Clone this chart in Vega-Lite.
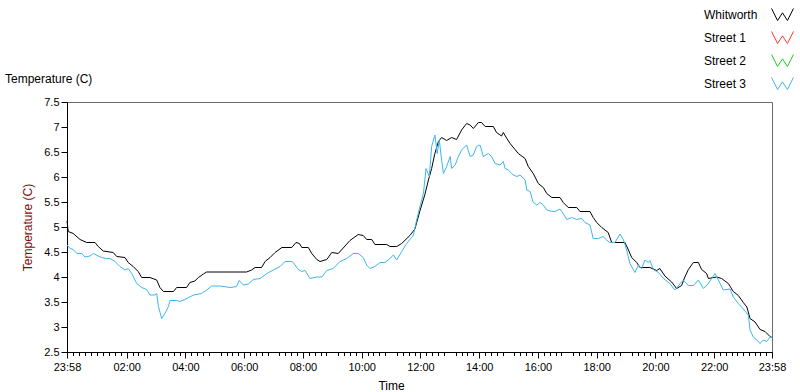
{
  "$schema": "https://vega.github.io/schema/vega-lite/v6.json",
  "width": 705,
  "height": 250,
  "autosize": "none",
  "padding": {"left": 67, "top": 102, "right": 28, "bottom": 40},
  "background": "#ffffff",
  "title": {"text": "Temperature (C)", "anchor": "start", "frame": "group", "dx": -62, "dy": 83, "offset": 0, "fontSize": 12, "fontWeight": "normal", "color": "#000000", "font": "Liberation Sans"},
  "datasets": {
    "whitworth": [
      {"t": -0.033, "v": 5.12}, {"t": 0.01, "v": 4.91}, {"t": 0.18, "v": 4.87}, {"t": 0.41, "v": 4.75}, {"t": 0.64, "v": 4.69},
      {"t": 0.92, "v": 4.69}, {"t": 1.03, "v": 4.61}, {"t": 1.2, "v": 4.52}, {"t": 1.54, "v": 4.49}, {"t": 1.66, "v": 4.41},
      {"t": 1.94, "v": 4.39}, {"t": 2.05, "v": 4.29}, {"t": 2.22, "v": 4.21}, {"t": 2.39, "v": 4.11}, {"t": 2.51, "v": 3.99},
      {"t": 2.79, "v": 3.99}, {"t": 3.02, "v": 3.94}, {"t": 3.13, "v": 3.79}, {"t": 3.25, "v": 3.71}, {"t": 3.59, "v": 3.71},
      {"t": 3.7, "v": 3.79}, {"t": 4.04, "v": 3.79}, {"t": 4.15, "v": 3.89}, {"t": 4.32, "v": 3.92}, {"t": 4.44, "v": 3.99},
      {"t": 4.61, "v": 4.06}, {"t": 4.72, "v": 4.1}, {"t": 6.08, "v": 4.1}, {"t": 6.25, "v": 4.14}, {"t": 6.37, "v": 4.19},
      {"t": 6.59, "v": 4.19}, {"t": 6.71, "v": 4.31}, {"t": 6.88, "v": 4.39}, {"t": 7.05, "v": 4.49}, {"t": 7.28, "v": 4.59},
      {"t": 7.62, "v": 4.59}, {"t": 7.76, "v": 4.69}, {"t": 7.88, "v": 4.67}, {"t": 7.96, "v": 4.59}, {"t": 8.18, "v": 4.59},
      {"t": 8.3, "v": 4.47}, {"t": 8.47, "v": 4.35}, {"t": 8.58, "v": 4.31}, {"t": 8.81, "v": 4.35}, {"t": 8.98, "v": 4.49},
      {"t": 9.2, "v": 4.47}, {"t": 9.37, "v": 4.58}, {"t": 9.6, "v": 4.73}, {"t": 9.88, "v": 4.85}, {"t": 10.05, "v": 4.83},
      {"t": 10.17, "v": 4.75}, {"t": 10.34, "v": 4.75}, {"t": 10.45, "v": 4.65}, {"t": 10.85, "v": 4.65}, {"t": 10.96, "v": 4.61},
      {"t": 11.19, "v": 4.61}, {"t": 11.36, "v": 4.67}, {"t": 11.64, "v": 4.83}, {"t": 11.81, "v": 4.96}, {"t": 11.98, "v": 5.32},
      {"t": 12.15, "v": 5.65}, {"t": 12.27, "v": 5.94}, {"t": 12.38, "v": 6.17}, {"t": 12.49, "v": 6.47}, {"t": 12.61, "v": 6.71},
      {"t": 12.72, "v": 6.79}, {"t": 12.89, "v": 6.73}, {"t": 13.06, "v": 6.79}, {"t": 13.23, "v": 6.75}, {"t": 13.4, "v": 6.94},
      {"t": 13.57, "v": 7.07}, {"t": 13.69, "v": 7.04}, {"t": 13.8, "v": 6.97}, {"t": 13.97, "v": 7.09}, {"t": 14.08, "v": 7.09},
      {"t": 14.2, "v": 7.01}, {"t": 14.48, "v": 7.01}, {"t": 14.59, "v": 6.89}, {"t": 14.76, "v": 6.82}, {"t": 14.82, "v": 6.89},
      {"t": 14.94, "v": 6.77}, {"t": 15.05, "v": 6.67}, {"t": 15.22, "v": 6.55}, {"t": 15.33, "v": 6.47}, {"t": 15.56, "v": 6.37},
      {"t": 15.67, "v": 6.21}, {"t": 15.84, "v": 6.07}, {"t": 15.9, "v": 6.0}, {"t": 16.01, "v": 5.87}, {"t": 16.18, "v": 5.79},
      {"t": 16.3, "v": 5.67}, {"t": 16.47, "v": 5.59}, {"t": 16.75, "v": 5.59}, {"t": 16.86, "v": 5.49}, {"t": 17.03, "v": 5.39},
      {"t": 17.32, "v": 5.39}, {"t": 17.43, "v": 5.31}, {"t": 17.77, "v": 5.31}, {"t": 17.88, "v": 5.19}, {"t": 18.0, "v": 5.09},
      {"t": 18.17, "v": 4.99}, {"t": 18.39, "v": 4.89}, {"t": 18.51, "v": 4.69}, {"t": 18.96, "v": 4.69}, {"t": 19.08, "v": 4.54},
      {"t": 19.19, "v": 4.39}, {"t": 19.36, "v": 4.29}, {"t": 19.47, "v": 4.19}, {"t": 19.81, "v": 4.19}, {"t": 20.04, "v": 4.13},
      {"t": 20.15, "v": 4.17}, {"t": 20.32, "v": 4.02}, {"t": 20.55, "v": 3.9}, {"t": 20.72, "v": 3.77}, {"t": 20.89, "v": 3.83},
      {"t": 21.0, "v": 4.0}, {"t": 21.12, "v": 4.15}, {"t": 21.29, "v": 4.29}, {"t": 21.46, "v": 4.29}, {"t": 21.57, "v": 4.15},
      {"t": 21.74, "v": 4.07}, {"t": 21.8, "v": 3.97}, {"t": 22.08, "v": 4.0}, {"t": 22.25, "v": 3.97}, {"t": 22.48, "v": 3.87},
      {"t": 22.65, "v": 3.71}, {"t": 22.82, "v": 3.63}, {"t": 22.99, "v": 3.49}, {"t": 23.11, "v": 3.4}, {"t": 23.22, "v": 3.17},
      {"t": 23.39, "v": 3.1}, {"t": 23.56, "v": 2.95}, {"t": 23.73, "v": 2.91}, {"t": 23.9, "v": 2.81}, {"t": 23.967, "v": 2.79}
    ],
    "street3": [
      {"t": -0.033, "v": 4.64}, {"t": 0.07, "v": 4.57}, {"t": 0.18, "v": 4.55}, {"t": 0.3, "v": 4.47}, {"t": 0.47, "v": 4.47},
      {"t": 0.58, "v": 4.4}, {"t": 0.75, "v": 4.42}, {"t": 0.86, "v": 4.47}, {"t": 1.03, "v": 4.42}, {"t": 1.15, "v": 4.39},
      {"t": 1.32, "v": 4.37}, {"t": 1.43, "v": 4.37}, {"t": 1.6, "v": 4.31}, {"t": 1.77, "v": 4.21}, {"t": 1.94, "v": 4.14},
      {"t": 2.05, "v": 4.17}, {"t": 2.17, "v": 4.07}, {"t": 2.34, "v": 3.87}, {"t": 2.51, "v": 3.79}, {"t": 2.68, "v": 3.75},
      {"t": 2.79, "v": 3.64}, {"t": 2.96, "v": 3.64}, {"t": 3.02, "v": 3.67}, {"t": 3.08, "v": 3.41}, {"t": 3.19, "v": 3.17},
      {"t": 3.3, "v": 3.27}, {"t": 3.42, "v": 3.41}, {"t": 3.47, "v": 3.53}, {"t": 3.7, "v": 3.53}, {"t": 3.81, "v": 3.51},
      {"t": 3.98, "v": 3.55}, {"t": 4.27, "v": 3.64}, {"t": 4.55, "v": 3.67}, {"t": 4.72, "v": 3.74}, {"t": 4.89, "v": 3.82},
      {"t": 5.18, "v": 3.82}, {"t": 5.52, "v": 3.79}, {"t": 5.74, "v": 3.81}, {"t": 5.83, "v": 3.93}, {"t": 5.97, "v": 3.84},
      {"t": 6.14, "v": 3.86}, {"t": 6.31, "v": 3.95}, {"t": 6.54, "v": 3.97}, {"t": 6.77, "v": 4.07}, {"t": 6.99, "v": 4.14},
      {"t": 7.22, "v": 4.21}, {"t": 7.39, "v": 4.31}, {"t": 7.62, "v": 4.31}, {"t": 7.67, "v": 4.29}, {"t": 7.84, "v": 4.15},
      {"t": 7.96, "v": 4.11}, {"t": 8.07, "v": 4.13}, {"t": 8.24, "v": 3.97}, {"t": 8.47, "v": 4.0}, {"t": 8.64, "v": 4.0},
      {"t": 8.81, "v": 4.13}, {"t": 9.03, "v": 4.17}, {"t": 9.26, "v": 4.31}, {"t": 9.49, "v": 4.37}, {"t": 9.71, "v": 4.47},
      {"t": 9.88, "v": 4.47}, {"t": 10.05, "v": 4.39}, {"t": 10.17, "v": 4.24}, {"t": 10.28, "v": 4.17}, {"t": 10.45, "v": 4.21},
      {"t": 10.62, "v": 4.29}, {"t": 10.79, "v": 4.29}, {"t": 10.9, "v": 4.34}, {"t": 11.08, "v": 4.44}, {"t": 11.19, "v": 4.34},
      {"t": 11.36, "v": 4.51}, {"t": 11.53, "v": 4.67}, {"t": 11.7, "v": 4.79}, {"t": 11.76, "v": 4.84}, {"t": 11.87, "v": 5.14},
      {"t": 11.98, "v": 5.41}, {"t": 12.1, "v": 5.67}, {"t": 12.19, "v": 6.17}, {"t": 12.3, "v": 6.01}, {"t": 12.38, "v": 6.61},
      {"t": 12.49, "v": 6.84}, {"t": 12.57, "v": 6.47}, {"t": 12.64, "v": 6.74}, {"t": 12.72, "v": 6.34}, {"t": 12.78, "v": 6.07},
      {"t": 12.89, "v": 6.21}, {"t": 13.01, "v": 6.41}, {"t": 13.06, "v": 6.17}, {"t": 13.18, "v": 6.24}, {"t": 13.29, "v": 6.41},
      {"t": 13.4, "v": 6.54}, {"t": 13.57, "v": 6.64}, {"t": 13.69, "v": 6.41}, {"t": 13.8, "v": 6.44}, {"t": 13.91, "v": 6.61},
      {"t": 14.03, "v": 6.64}, {"t": 14.14, "v": 6.41}, {"t": 14.31, "v": 6.47}, {"t": 14.42, "v": 6.41}, {"t": 14.54, "v": 6.27},
      {"t": 14.71, "v": 6.24}, {"t": 14.82, "v": 6.31}, {"t": 14.88, "v": 6.17}, {"t": 14.99, "v": 6.14}, {"t": 15.16, "v": 6.04},
      {"t": 15.28, "v": 6.01}, {"t": 15.39, "v": 6.04}, {"t": 15.56, "v": 5.94}, {"t": 15.62, "v": 5.74}, {"t": 15.73, "v": 5.71},
      {"t": 15.84, "v": 5.49}, {"t": 15.96, "v": 5.44}, {"t": 16.07, "v": 5.49}, {"t": 16.18, "v": 5.44}, {"t": 16.3, "v": 5.34},
      {"t": 16.41, "v": 5.32}, {"t": 16.58, "v": 5.31}, {"t": 16.75, "v": 5.36}, {"t": 16.86, "v": 5.27}, {"t": 16.98, "v": 5.15},
      {"t": 17.15, "v": 5.19}, {"t": 17.32, "v": 5.15}, {"t": 17.49, "v": 5.17}, {"t": 17.6, "v": 5.09}, {"t": 17.77, "v": 5.04},
      {"t": 17.88, "v": 4.77}, {"t": 18.05, "v": 4.77}, {"t": 18.22, "v": 4.81}, {"t": 18.34, "v": 4.74}, {"t": 18.45, "v": 4.69},
      {"t": 18.62, "v": 4.69}, {"t": 18.79, "v": 4.86}, {"t": 18.91, "v": 4.74}, {"t": 19.02, "v": 4.54}, {"t": 19.13, "v": 4.27},
      {"t": 19.3, "v": 4.09}, {"t": 19.42, "v": 4.24}, {"t": 19.53, "v": 4.17}, {"t": 19.64, "v": 4.34}, {"t": 19.76, "v": 4.29},
      {"t": 19.81, "v": 4.33}, {"t": 19.93, "v": 4.15}, {"t": 20.1, "v": 4.09}, {"t": 20.27, "v": 3.97}, {"t": 20.49, "v": 3.87},
      {"t": 20.66, "v": 3.74}, {"t": 20.84, "v": 3.87}, {"t": 20.95, "v": 3.94}, {"t": 21.12, "v": 3.83}, {"t": 21.29, "v": 3.83},
      {"t": 21.46, "v": 3.94}, {"t": 21.63, "v": 3.77}, {"t": 21.8, "v": 3.87}, {"t": 21.91, "v": 3.97}, {"t": 22.03, "v": 4.07},
      {"t": 22.14, "v": 3.94}, {"t": 22.31, "v": 3.74}, {"t": 22.54, "v": 3.76}, {"t": 22.65, "v": 3.6}, {"t": 22.82, "v": 3.47},
      {"t": 22.99, "v": 3.36}, {"t": 23.16, "v": 3.24}, {"t": 23.22, "v": 2.94}, {"t": 23.33, "v": 2.8}, {"t": 23.45, "v": 2.74},
      {"t": 23.56, "v": 2.67}, {"t": 23.67, "v": 2.74}, {"t": 23.79, "v": 2.71}, {"t": 23.9, "v": 2.8}, {"t": 23.967, "v": 2.79}
    ]
  },
  "encoding": {
    "y": {
      "field": "v", "type": "quantitative",
      "scale": {"domain": [2.5, 7.5], "nice": false, "zero": false},
      "axis": {
        "values": [2.5, 3, 3.5, 4, 4.5, 5, 5.5, 6, 6.5, 7, 7.5],
        "format": "~g", "tickSize": 6, "labelPadding": 2,
        "title": "Temperature (C)", "titleColor": "#7a0c0c", "titleFontSize": 12, "titleFontWeight": "normal", "titlePadding": 9
      }
    }
  },
  "layer": [
    {
      "data": {"name": "whitworth"},
      "mark": {"type": "line", "strokeWidth": 1, "interpolate": "linear"},
      "encoding": {
        "x": {
          "field": "t", "type": "quantitative",
          "scale": {"domain": [-0.0333, 23.9667], "nice": false, "zero": false},
          "axis": {
            "orient": "bottom",
            "values": [-0.0333, 2, 4, 6, 8, 10, 12, 14, 16, 18, 20, 22, 23.9667],
            "labelExpr": "datum.value < 0 || datum.value > 23 ? '23:58' : (datum.value < 10 ? '0' : '') + datum.value + ':00'",
            "tickSize": 6, "labelPadding": 3, "labelFlush": false, "labelOverlap": false,
            "title": "Time", "titleX": 324, "titleY": 37, "titleBaseline": "alphabetic", "titleAlign": "center",
            "titleFontSize": 12, "titleFontWeight": "normal", "titleColor": "#000000"
          }
        },
        "color": {
          "datum": "Whitworth", "type": "nominal",
          "scale": {"domain": ["Whitworth", "Street 1", "Street 2", "Street 3"], "range": ["#000000", "#ff3b3b", "#1fd21f", "#3cb6f0"]},
          "legend": {
            "orient": "none", "legendX": 704, "legendY": -99, "title": null, "padding": 0,
            "symbolType": "M-1,-0.55L-0.45,0.55L0,-0.15L0.45,0.55L1,-0.55",
            "symbolSize": 480, "symbolStrokeWidth": 1, "labelOffset": -90, "labelAlign": "left",
            "rowPadding": 3, "labelFontSize": 12, "labelColor": "#000000", "labelFont": "Liberation Sans"
          }
        }
      }
    },
    {
      "data": {"name": "street3"},
      "mark": {"type": "line", "strokeWidth": 1, "interpolate": "linear"},
      "encoding": {
        "x": {
          "field": "t", "type": "quantitative",
          "scale": {"domain": [-0.0333, 23.9667], "nice": false, "zero": false},
          "axis": {
            "orient": "bottom", "labels": false, "domain": false, "title": null, "tickSize": 3.5,
            "values": [0.17, 0.37, 0.58, 0.78, 0.98, 1.19, 1.39, 1.59, 1.8,
              2.2, 2.4, 2.6, 2.8, 3.2, 3.4, 3.6, 3.8, 4.2, 4.4, 4.6, 4.8, 5.2, 5.4, 5.6, 5.8,
              6.2, 6.4, 6.6, 6.8, 7.2, 7.4, 7.6, 7.8, 8.2, 8.4, 8.6, 8.8, 9.2, 9.4, 9.6, 9.8,
              10.2, 10.4, 10.6, 10.8, 11.2, 11.4, 11.6, 11.8, 12.2, 12.4, 12.6, 12.8, 13.2, 13.4, 13.6, 13.8,
              14.2, 14.4, 14.6, 14.8, 15.2, 15.4, 15.6, 15.8, 16.2, 16.4, 16.6, 16.8, 17.2, 17.4, 17.6, 17.8,
              18.2, 18.4, 18.6, 18.8, 19.2, 19.4, 19.6, 19.8, 20.2, 20.4, 20.6, 20.8, 21.2, 21.4, 21.6, 21.8,
              22.2, 22.39, 22.59, 22.79, 22.98, 23.18, 23.38, 23.57, 23.77]
          }
        },
        "color": {"datum": "Street 3", "type": "nominal"}
      }
    }
  ],
  "resolve": {"axis": {"x": "independent"}},
  "config": {
    "font": "Liberation Sans",
    "view": {"stroke": "#6a6a6a", "strokeWidth": 1},
    "axis": {
      "grid": false, "domainColor": "#000000", "tickColor": "#000000", "labelColor": "#000000",
      "labelFontSize": 11, "labelFont": "Liberation Sans", "titleFont": "Liberation Sans"
    }
  }
}
